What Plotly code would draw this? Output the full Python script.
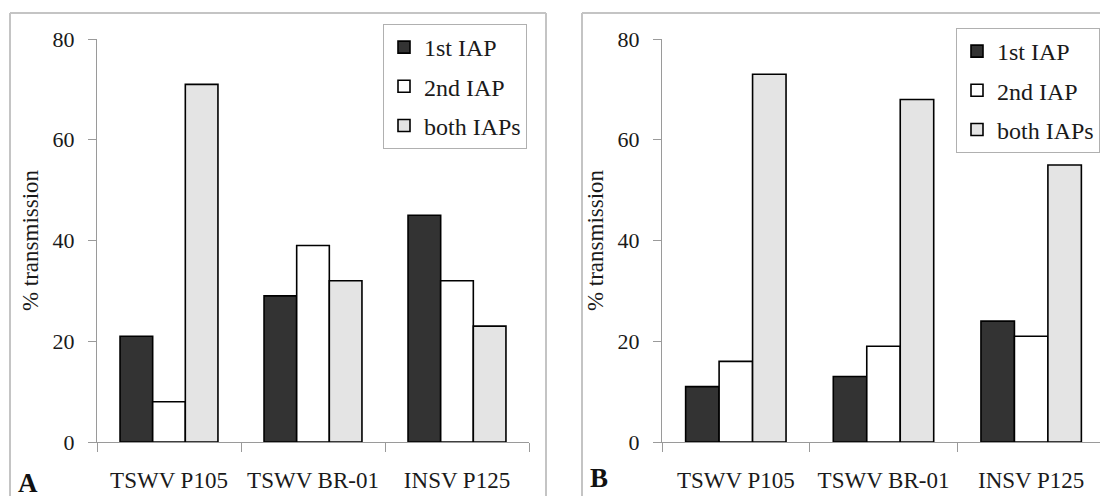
import plotly.graph_objects as go

categories = ["TSWV P105", "TSWV BR-01", "INSV P125"]
series_names = ["1st IAP", "2nd IAP", "both IAPs"]

# Panel A values (% transmission)
a_first = [21, 29, 45]
a_second = [8, 39, 32]
a_both = [71, 32, 23]

# Panel B values (% transmission)
b_first = [11, 13, 24]
b_second = [16, 19, 21]
b_both = [73, 68, 55]

y_ticks = [0, 20, 40, 60, 80]

colors = ["#333333", "#ffffff", "#e4e4e4"]
W, H = 1108, 496
OFF = 8  # page body margin offset
FONT = "Liberation Serif"
TXT = "#1a1a1a"
AX = "#9a9a9a"

fig = go.Figure()
panels = [("x", "y", "legend", [a_first, a_second, a_both]),
          ("x2", "y2", "legend2", [b_first, b_second, b_both])]
for xa, ya, lg, vals in panels:
    for name, v, c in zip(series_names, vals, colors):
        fig.add_trace(go.Bar(
            x=categories, y=v, name=name, xaxis=xa, yaxis=ya, legend=lg,
            legendgroup=lg + name,
            marker=dict(color=c, line=dict(color="#000000", width=1.6)),
        ))

def px(x):
    return (x - OFF) / W

def py(y):
    return 1 - (y - OFF) / H

y_dom = [py(442), py(39)]
xaxis_common = dict(
    type="category", showline=True, linecolor=AX, linewidth=1,
    ticks="outside", tickson="boundaries", ticklen=9, tickcolor=AX,
    showgrid=False, zeroline=False, automargin=False, ticklabelstandoff=17,
    tickfont=dict(family=FONT, size=23, color=TXT), range=[-0.5, 2.5],
)
yaxis_common = dict(
    range=[0, 80], tickvals=y_ticks, showline=True, linecolor=AX, linewidth=1,
    ticks="outside", ticklen=8, tickcolor=AX, showgrid=False, zeroline=False,
    automargin=False,
    tickfont=dict(family=FONT, size=22, color=TXT), ticklabelstandoff=9,
    title=dict(text="% transmission", font=dict(family=FONT, size=23, color=TXT), standoff=7),
    domain=y_dom,
)
legend_common = dict(
    font=dict(family=FONT, size=24, color=TXT), bgcolor="#ffffff",
    bordercolor="#b0b0b0", borderwidth=1, xanchor="right", yanchor="top",
    tracegroupgap=5, traceorder="grouped", itemwidth=30,
)

fig.update_layout(
    width=W, height=H, margin=dict(l=0, r=0, t=0, b=0, autoexpand=False),
    paper_bgcolor="#ffffff", plot_bgcolor="#ffffff",
    barmode="group", bargap=0.32, bargroupgap=0,
    xaxis=dict(domain=[px(97), px(529)], anchor="y", **xaxis_common),
    xaxis2=dict(domain=[px(662), px(1105)], anchor="y2", **xaxis_common),
    yaxis=dict(anchor="x", **yaxis_common),
    yaxis2=dict(anchor="x2", **yaxis_common),
    legend=dict(x=px(527), y=py(24), **legend_common),
    legend2=dict(x=px(1100), y=py(28), **legend_common),
    showlegend=True,
)

# panel frames
frame = dict(type="line", xref="paper", yref="paper", line=dict(color="#c4c4c4", width=2))
for x0, x1 in [(10, 546), (582, 1120)]:
    fig.add_shape(x0=px(x0), x1=px(x1), y0=py(13), y1=py(13), **frame)
    fig.add_shape(x0=px(x0), x1=px(x0), y0=py(13), y1=py(510), **frame)
fig.add_shape(x0=px(546), x1=px(546), y0=py(13), y1=py(510), **frame)

for letter, x, y in [("A", 28, 483), ("B", 599, 478)]:
    fig.add_annotation(text="<b>%s</b>" % letter, x=px(x), y=py(y), xref="paper", yref="paper",
                       showarrow=False, font=dict(family=FONT, size=27, color="#111111"),
                       xanchor="center", yanchor="middle")

fig.write_html("out.html")
